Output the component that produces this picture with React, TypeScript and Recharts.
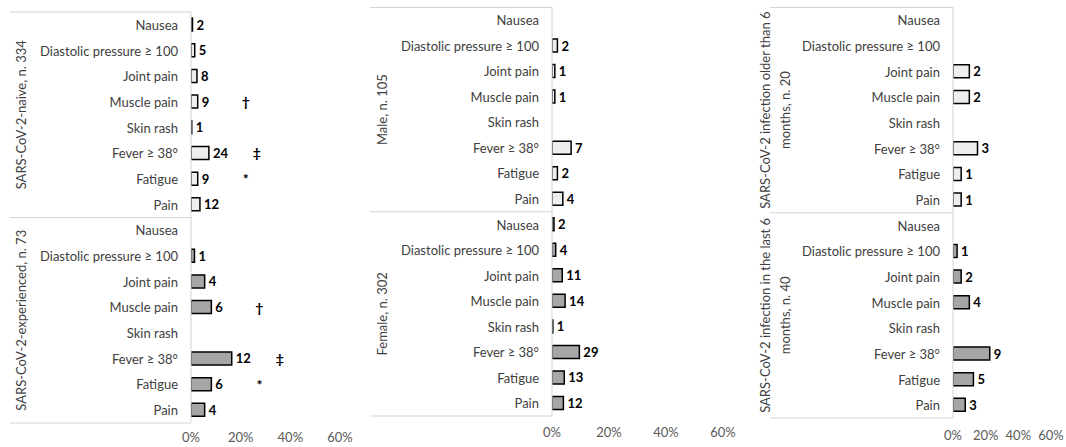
import React from 'react';
import { BarChart, Bar, XAxis, YAxis, Cell, LabelList } from 'recharts';

const symptoms = ['Nausea', 'Diastolic pressure ≥ 100', 'Joint pain', 'Muscle pain', 'Skin rash', 'Fever ≥ 38°', 'Fatigue', 'Pain'];
const xTicks = [0, 20, 40, 60];

const naiveCounts = [2, 5, 8, 9, 1, 24, 9, 12];
const naivePct = [0.6, 1.5, 2.4, 2.7, 0.3, 7.2, 2.7, 3.6];
const experiencedCounts = [0, 1, 4, 6, 0, 12, 6, 4];
const experiencedPct = [0, 1.4, 5.5, 8.2, 0, 16.4, 8.2, 5.5];

const maleCounts = [0, 2, 1, 1, 0, 7, 2, 4];
const malePct = [0, 1.9, 1.0, 1.0, 0, 6.7, 1.9, 3.8];
const femaleCounts = [2, 4, 11, 14, 1, 29, 13, 12];
const femalePct = [0.7, 1.3, 3.6, 4.6, 0.3, 9.6, 4.3, 4.0];

const olderCounts = [0, 0, 2, 2, 0, 3, 1, 1];
const olderPct = [0, 0, 10, 10, 0, 15, 5, 5];
const recentCounts = [0, 1, 2, 4, 0, 9, 5, 3];
const recentPct = [0, 2.5, 5, 10, 0, 22.5, 12.5, 7.5];

const significanceMarks = ['', '', '', '†', '', '‡', '*', ''];
const noMarks = ['', '', '', '', '', '', '', ''];

const FONT = 'Lato, "DejaVu Sans", sans-serif';
const LIGHT = '#eeeeee';
const DARK = '#a6a6a6';
const BORDER = '#d4d4d4';

type Group = { title: string[]; counts: number[]; pct: number[]; marks: string[] };

function buildRows(groups: Group[]) {
  const rows: any[] = [];
  groups.forEach((g, gi) => {
    symptoms.forEach((s, i) => {
      rows.push({ key: `${gi}-${i}`, name: s, pct: g.pct[i], count: g.counts[i], mark: g.marks[i], group: gi });
    });
  });
  return rows;
}

type Cfg = {
  left: number; width: number; height: number; top: number; xAxisH: number; yAxisW: number;
  right: number; lineStart: number; titleX: number; xTickMargin: number; groups: Group[];
};

function Panel({ cfg }: { cfg: Cfg }) {
  const data = buildRows(cfg.groups);
  const band = (cfg.height - cfg.top - cfg.xAxisH) / data.length;
  const renderTick = (props: any) => {
    const { x, y, index } = props;
    const row = data[index];
    const els: any[] = [];
    els.push(
      <text key="t" x={x} y={y} textAnchor="end" dominantBaseline="central" fontSize={13} fill="#404040" fontFamily={FONT}>
        {row.name}
      </text>
    );
    if (index % 8 === 0) {
      const top = y - band / 2;
      els.push(<line key="l" x1={cfg.lineStart} x2={cfg.yAxisW} y1={top} y2={top} stroke={BORDER} strokeWidth={1} />);
      const cy = top + band * 4;
      const lines = cfg.groups[row.group].title;
      const n = lines.length;
      els.push(
        <text key="g" transform={`rotate(-90 ${cfg.titleX} ${cy})`} x={cfg.titleX} y={cy} textAnchor="middle"
          dominantBaseline="central" fontSize={13} fill="#404040" fontFamily={FONT}>
          {lines.map((ln, li) => (
            <tspan key={li} x={cfg.titleX} y={cy + (li - (n - 1) / 2) * 20}>{ln}</tspan>
          ))}
        </text>
      );
    }
    if (index === data.length - 1) {
      const bottom = y + band / 2;
      els.push(<line key="b" x1={cfg.lineStart} x2={cfg.yAxisW} y1={bottom} y2={bottom} stroke={BORDER} strokeWidth={1} />);
    }
    return <g>{els}</g>;
  };
  const renderCount = (p: any) => {
    const { x, y, width, height, value } = p;
    if (!value) return null;
    return (
      <text x={x + width + 4} y={y + height / 2} dominantBaseline="central" fontSize={13} fontWeight="bold" fill="#000" fontFamily={FONT}>
        {value}
      </text>
    );
  };
  const renderMark = (p: any) => {
    const { x, y, width, height, value } = p;
    if (!value) return null;
    return (
      <text x={x + width + 48} y={y + height / 2} dominantBaseline="central" textAnchor="middle" fontSize={14} fontWeight="bold" fill="#000" fontFamily={FONT}>
        {value}
      </text>
    );
  };
  return (
    <div style={{ position: 'absolute', left: cfg.left, top: 0 }}>
      <BarChart width={cfg.width} height={cfg.height} data={data} layout="vertical"
        margin={{ top: cfg.top, right: cfg.right, left: 0, bottom: 0 }}>
        <XAxis type="number" domain={[0, 60]} ticks={xTicks} tickFormatter={(v: number) => `${v}%`}
          axisLine={false} tickLine={false} height={cfg.xAxisH} tickSize={6} tickMargin={cfg.xTickMargin}
          tick={{ fontSize: 13, fill: '#595959', fontFamily: FONT }} allowDataOverflow />
        <YAxis type="category" dataKey="key" width={cfg.yAxisW} interval={0} tickLine={false}
          tickSize={6} tickMargin={7} axisLine={{ stroke: BORDER, strokeWidth: 1 }} tick={renderTick} />
        <Bar dataKey="pct" barSize={13} stroke="#000" strokeWidth={1.5} isAnimationActive={false}>
          {data.map((r) => (
            <Cell key={r.key} fill={r.group === 0 ? LIGHT : DARK} />
          ))}
          <LabelList dataKey="count" content={renderCount} />
          <LabelList dataKey="mark" content={renderMark} />
        </Bar>
      </BarChart>
    </div>
  );
}

const panels: Cfg[] = [
  {
    left: 0, width: 360, height: 447, top: 12, xAxisH: 24, yAxisW: 191, right: 20, lineStart: 10, titleX: 20.5, xTickMargin: 4,
    groups: [
      { title: ['SARS-CoV-2-naive, n. 334'], counts: naiveCounts, pct: naivePct, marks: significanceMarks },
      { title: ['SARS-CoV-2-experienced, n. 73'], counts: experiencedCounts, pct: experiencedPct, marks: significanceMarks },
    ],
  },
  {
    left: 360, width: 383, height: 447, top: 7.5, xAxisH: 31, yAxisW: 192, right: 20, lineStart: 10, titleX: 22, xTickMargin: 6,
    groups: [
      { title: ['Male, n. 105'], counts: maleCounts, pct: malePct, marks: noMarks },
      { title: ['Female, n. 302'], counts: femaleCounts, pct: femalePct, marks: noMarks },
    ],
  },
  {
    left: 750, width: 316, height: 447, top: 7.5, xAxisH: 29, yAxisW: 203, right: 15, lineStart: 20, titleX: 25, xTickMargin: 7,
    groups: [
      { title: ['SARS-CoV-2 infection older than 6', 'months, n. 20'], counts: olderCounts, pct: olderPct, marks: noMarks },
      { title: ['SARS-CoV-2 infection in the last 6', 'months, n. 40'], counts: recentCounts, pct: recentPct, marks: noMarks },
    ],
  },
];

export default function App() {
  return (
    <div style={{ position: 'absolute', left: 0, top: 0, width: 1066, height: 447, background: '#fff' }}>
      {panels.map((p, i) => (
        <Panel key={i} cfg={p} />
      ))}
    </div>
  );
}
